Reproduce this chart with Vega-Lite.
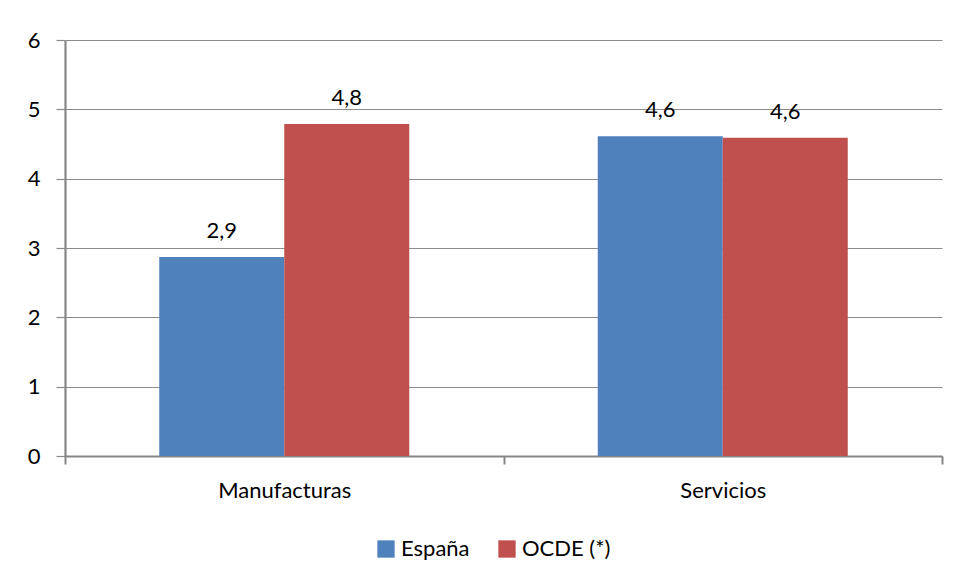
{
  "$schema": "https://vega.github.io/schema/vega-lite/v6.json",
  "width": 877,
  "height": 416,
  "autosize": {"type": "none"},
  "padding": {"left": 65, "top": 40, "right": 15, "bottom": 126},
  "background": "white",
  "config": {
    "locale": {
      "number": {"decimal": ",", "thousands": ".", "grouping": [3], "currency": ["", " €"]}
    },
    "view": {"stroke": null},
    "font": "Lato",
    "text": {"font": "Lato"}
  },
  "data": {
    "values": [
      {"sector": "Manufacturas", "pais": "España", "valor": 2.87},
      {"sector": "Manufacturas", "pais": "OCDE (*)", "valor": 4.79},
      {"sector": "Servicios", "pais": "España", "valor": 4.61},
      {"sector": "Servicios", "pais": "OCDE (*)", "valor": 4.59}
    ]
  },
  "encoding": {
    "x": {
      "field": "sector",
      "type": "nominal",
      "sort": ["Manufacturas", "Servicios"],
      "scale": {"paddingInner": 0, "paddingOuter": 0},
      "axis": {
        "title": null,
        "labelAngle": 0,
        "tickBand": "extent",
        "tickSize": 8,
        "tickColor": "#868686",
        "tickWidth": 2,
        "domainColor": "#868686",
        "domainWidth": 2,
        "labelFontSize": 22,
        "labelColor": "#000000",
        "labelPadding": 16,
        "labelFont": "Lato"
      }
    },
    "xOffset": {
      "field": "pais",
      "sort": ["España", "OCDE (*)"],
      "scale": {"paddingInner": 0, "paddingOuter": 0.754}
    },
    "y": {
      "field": "valor",
      "type": "quantitative",
      "scale": {"domain": [0, 6], "nice": false},
      "axis": {
        "title": null,
        "values": [0, 1, 2, 3, 4, 5, 6],
        "grid": true,
        "gridColor": "#8c8c8c",
        "gridWidth": 1.2,
        "domainColor": "#868686",
        "domainWidth": 2.2,
        "tickColor": "#8c8c8c",
        "tickSize": 9,
        "tickWidth": 1.2,
        "labelFontSize": 22,
        "labelColor": "#000000",
        "labelPadding": 16,
        "labelFont": "Lato"
      }
    }
  },
  "layer": [
    {
      "mark": {"type": "bar"},
      "encoding": {
        "color": {
          "field": "pais",
          "type": "nominal",
          "sort": ["España", "OCDE (*)"],
          "scale": {"domain": ["España", "OCDE (*)"], "range": ["#4f81bd", "#c0504d"]},
          "legend": {
            "title": null,
            "orient": "none",
            "legendX": 310,
            "legendY": 498,
            "direction": "horizontal",
            "symbolType": "square",
            "symbolSize": 300,
            "symbolStrokeWidth": 0,
            "labelFontSize": 22,
            "labelColor": "#000000",
            "labelFont": "Lato",
            "labelOffset": 4,
            "columnPadding": 26
          }
        }
      }
    },
    {
      "mark": {"type": "text", "baseline": "alphabetic", "dy": -19, "fontSize": 22, "color": "#000000", "font": "Lato"},
      "encoding": {
        "text": {"field": "valor", "type": "quantitative", "format": ".1f"}
      }
    }
  ]
}
